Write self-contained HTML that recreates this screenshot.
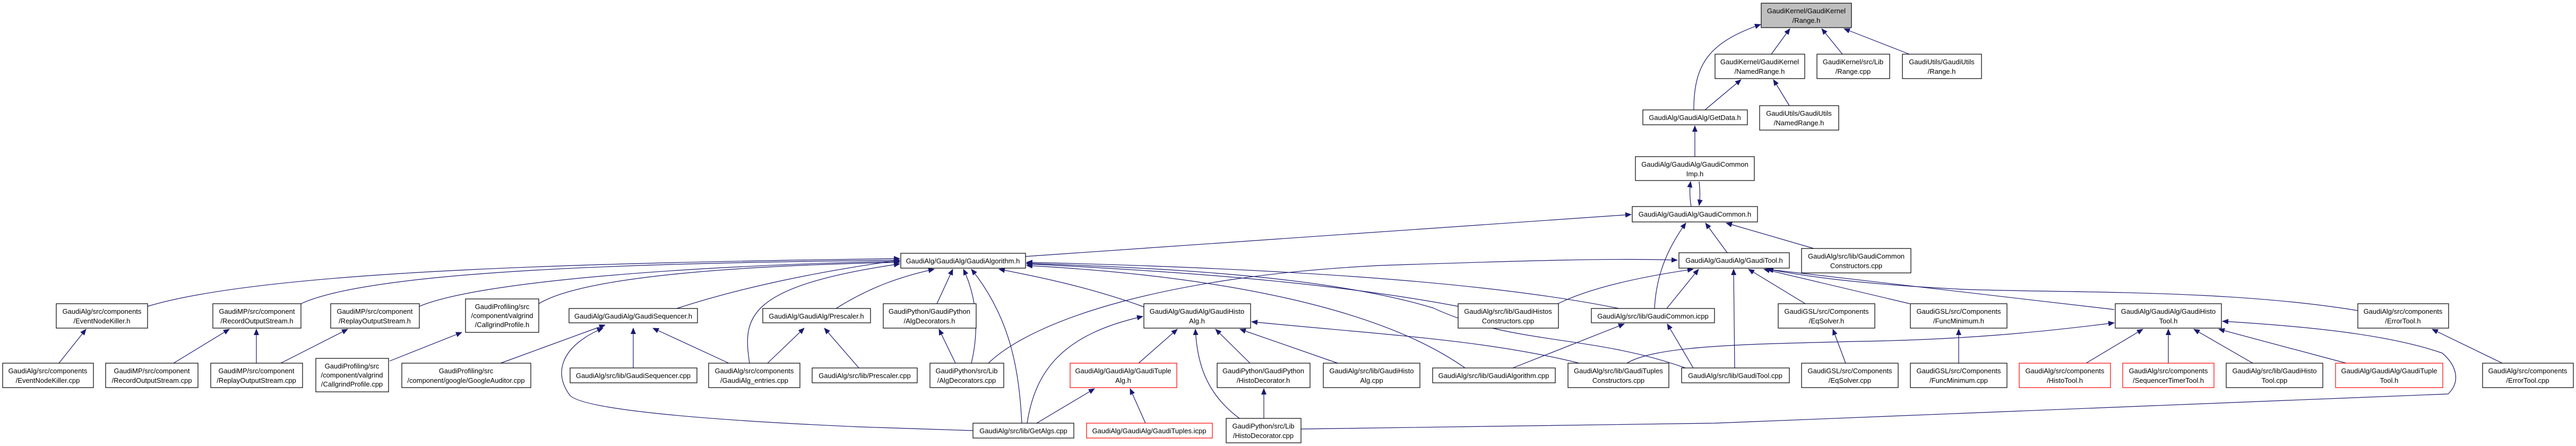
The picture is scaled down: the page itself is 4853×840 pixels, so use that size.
<!DOCTYPE html>
<html><head><meta charset="utf-8"><style>
html,body{margin:0;padding:0;background:#fff;}
svg{display:block;}
text{font-family:"Liberation Sans",sans-serif;font-size:13px;fill:#000;text-anchor:middle;}
.b{fill:#fff;stroke:#000;stroke-width:1.2;}
.r{fill:#fff;stroke:#f00;stroke-width:1.2;}
.g{fill:#bfbfbf;stroke:#000;stroke-width:1.2;}
.e{fill:none;stroke:#191970;stroke-width:1.2;marker-end:url(#a);}
</style></head><body>
<svg width="4853" height="840" viewBox="0 0 4853 840" xmlns="http://www.w3.org/2000/svg">
<defs><marker id="a" markerWidth="12" markerHeight="10" refX="11" refY="5" orient="auto" markerUnits="userSpaceOnUse"><path d="M0,0 L12,5 L0,10 z" fill="#191970"/></marker></defs>

<!-- edges -->
<path class="e" d="M3191,207 C3191,120 3220,80 3317,46"/>
<path class="e" d="M3337,102 L3372,54"/>
<path class="e" d="M3471,102 L3432,54"/>
<path class="e" d="M3597,102 L3474,54"/>
<path class="e" d="M3212,207 L3280,150"/>
<path class="e" d="M3371,199 L3341,150"/>
<path class="e" d="M3193,295 L3193,237"/>
<path class="e" d="M3186,389 C3183,370 3183,355 3185,342"/>
<path class="e" d="M3201,342 C3203,360 3203,375 3201,387"/>
<path class="e" d="M1932,483 L3073,404"/>
<path class="e" d="M3254,476 L3213,420"/>
<path class="e" d="M3417,468 L3252,420"/>
<path class="e" d="M3117,581 C3120,520 3140,470 3176,420"/>
<path class="e" d="M3140,581 L3200,507"/>
<path class="e" d="M3050,581 C2800,530 2400,505 1934,494"/>
<path class="e" d="M2935,572 C3000,540 3100,520 3190,507"/>
<path class="e" d="M2747,577 C2500,530 2200,510 1934,497"/>
<path class="e" d="M2850,693 L3060,610"/>
<path class="e" d="M2760,693 C2600,580 2300,520 1934,500"/>
<path class="e" d="M3190,693 L3141,610"/>
<path class="e" d="M3268,693 L3266,507"/>
<path class="e" d="M3175,693 C3000,630 2850,650 2700,580 C2500,520 2200,505 1934,496"/>
<path class="e" d="M2975,684 C2800,640 2600,630 2358,606"/>
<path class="e" d="M3065,684 C3120,650 3300,648 3500,643 C3700,640 3850,625 3983,608"/>
<path class="e" d="M1862,684 C1950,600 2200,520 2600,500 C2900,490 3050,486 3160,490"/>
<path class="e" d="M1830,684 C1845,620 1840,560 1815,507"/>
<path class="e" d="M1765,572 L1795,507"/>
<path class="e" d="M1800,684 L1769,620"/>
<path class="e" d="M1925,797 C1920,700 1905,600 1830,507"/>
<path class="e" d="M1935,797 C1950,700 2000,630 2153,596"/>
<path class="e" d="M1953,797 L2062,732"/>
<path class="e" d="M2158,797 L2129,732"/>
<path class="e" d="M2145,684 L2218,620"/>
<path class="e" d="M2355,684 L2290,620"/>
<path class="e" d="M2520,684 L2336,620"/>
<path class="e" d="M2335,788 C2270,740 2255,680 2252,620"/>
<path class="e" d="M2381,788 L2381,732"/>
<path class="e" d="M2451,808 L3230,797 L4612,742 C4635,720 4630,690 4601,665 C4500,630 4350,615 4187,605"/>
<path class="e" d="M1833,811 L1620,804 C1300,790 1100,770 1074,745 C1040,700 1060,650 1136,618"/>
<path class="e" d="M1275,581 C1400,540 1550,510 1695,490"/>
<path class="e" d="M1373,684 L1230,618"/>
<path class="e" d="M1446,684 L1515,618"/>
<path class="e" d="M1412,684 C1400,600 1400,540 1695,497"/>
<path class="e" d="M1193,693 L1193,618"/>
<path class="e" d="M943,684 L1140,612"/>
<path class="e" d="M1618,693 L1553,618"/>
<path class="e" d="M1575,581 C1640,540 1700,520 1760,507"/>
<path class="e" d="M278,577 C500,510 1100,495 1695,487"/>
<path class="e" d="M567,572 C700,510 1200,495 1695,490"/>
<path class="e" d="M790,577 C900,530 1300,500 1695,492"/>
<path class="e" d="M1015,572 C1100,520 1400,500 1695,494"/>
<path class="e" d="M111,684 L162,620"/>
<path class="e" d="M327,684 L432,620"/>
<path class="e" d="M483,684 L483,620"/>
<path class="e" d="M529,684 L655,620"/>
<path class="e" d="M734,680 L870,626"/>
<path class="e" d="M2155,578 C2050,540 1950,520 1882,507"/>
<path class="e" d="M3401,572 L3294,507"/>
<path class="e" d="M3598,572 L3323,507"/>
<path class="e" d="M3983,583 L3328,507"/>
<path class="e" d="M4442,585 C4200,545 3900,552 3700,545 C3500,535 3400,520 3330,507"/>
<path class="e" d="M3477,684 L3453,620"/>
<path class="e" d="M3690,684 L3690,620"/>
<path class="e" d="M3930,684 L4037,620"/>
<path class="e" d="M4085,684 L4085,620"/>
<path class="e" d="M4244,684 L4133,620"/>
<path class="e" d="M4420,684 L4180,620"/>
<path class="e" d="M4714,684 L4582,620"/>

<!-- nodes -->
<rect class="g" x="3318" y="6" width="170" height="46"/><text x="3403" y="25">GaudiKernel/GaudiKernel</text><text x="3403" y="43">/Range.h</text>
<rect class="b" x="3231" y="102" width="169" height="46"/><text x="3315" y="121">GaudiKernel/GaudiKernel</text><text x="3315" y="139">/NamedRange.h</text>
<rect class="b" x="3423" y="102" width="137" height="46"/><text x="3491" y="121">GaudiKernel/src/Lib</text><text x="3491" y="139">/Range.cpp</text>
<rect class="b" x="3584" y="102" width="149" height="46"/><text x="3658" y="121">GaudiUtils/GaudiUtils</text><text x="3658" y="139">/Range.h</text>
<rect class="b" x="3095" y="207" width="197" height="28"/><text x="3193" y="226">GaudiAlg/GaudiAlg/GetData.h</text>
<rect class="b" x="3315" y="199" width="149" height="46"/><text x="3389" y="218">GaudiUtils/GaudiUtils</text><text x="3389" y="236">/NamedRange.h</text>
<rect class="b" x="3081" y="295" width="224" height="45"/><text x="3193" y="314">GaudiAlg/GaudiAlg/GaudiCommon</text><text x="3193" y="332">Imp.h</text>
<rect class="b" x="3075" y="389" width="236" height="29"/><text x="3193" y="408">GaudiAlg/GaudiAlg/GaudiCommon.h</text>
<rect class="b" x="1697" y="477" width="235" height="28"/><text x="1814" y="496">GaudiAlg/GaudiAlg/GaudiAlgorithm.h</text>
<rect class="b" x="3163" y="476" width="208" height="29"/><text x="3267" y="495">GaudiAlg/GaudiAlg/GaudiTool.h</text>
<rect class="b" x="3394" y="468" width="206" height="46"/><text x="3497" y="487">GaudiAlg/src/lib/GaudiCommon</text><text x="3497" y="505">Constructors.cpp</text>

<rect class="b" x="106" y="572" width="172" height="46"/><text x="192" y="591">GaudiAlg/src/components</text><text x="192" y="609">/EventNodeKiller.h</text>
<rect class="b" x="401" y="572" width="166" height="46"/><text x="484" y="591">GaudiMP/src/component</text><text x="484" y="609">/RecordOutputStream.h</text>
<rect class="b" x="623" y="572" width="167" height="46"/><text x="706" y="591">GaudiMP/src/component</text><text x="706" y="609">/ReplayOutputStream.h</text>
<rect class="b" x="877" y="563" width="138" height="63"/><text x="946" y="582">GaudiProfiling/src</text><text x="946" y="599">/component/valgrind</text><text x="946" y="616">/CallgrindProfile.h</text>
<rect class="b" x="1072" y="581" width="242" height="27"/><text x="1193" y="600">GaudiAlg/GaudiAlg/GaudiSequencer.h</text>
<rect class="b" x="1437" y="581" width="203" height="27"/><text x="1538" y="600">GaudiAlg/GaudiAlg/Prescaler.h</text>
<rect class="b" x="1664" y="572" width="175" height="46"/><text x="1751" y="591">GaudiPython/GaudiPython</text><text x="1751" y="609">/AlgDecorators.h</text>
<rect class="b" x="2155" y="572" width="201" height="46"/><text x="2255" y="591">GaudiAlg/GaudiAlg/GaudiHisto</text><text x="2255" y="609">Alg.h</text>
<rect class="b" x="2747" y="572" width="189" height="46"/><text x="2841" y="591">GaudiAlg/src/lib/GaudiHistos</text><text x="2841" y="609">Constructors.cpp</text>
<rect class="b" x="2998" y="581" width="232" height="27"/><text x="3114" y="600">GaudiAlg/src/lib/GaudiCommon.icpp</text>
<rect class="b" x="3350" y="572" width="182" height="46"/><text x="3441" y="591">GaudiGSL/src/Components</text><text x="3441" y="609">/EqSolver.h</text>
<rect class="b" x="3599" y="572" width="182" height="46"/><text x="3690" y="591">GaudiGSL/src/Components</text><text x="3690" y="609">/FuncMinimum.h</text>
<rect class="b" x="3985" y="572" width="200" height="46"/><text x="4085" y="591">GaudiAlg/GaudiAlg/GaudiHisto</text><text x="4085" y="609">Tool.h</text>
<rect class="b" x="4442" y="572" width="171" height="46"/><text x="4527" y="591">GaudiAlg/src/components</text><text x="4527" y="609">/ErrorTool.h</text>

<rect class="b" x="5" y="684" width="171" height="46"/><text x="90" y="703">GaudiAlg/src/components</text><text x="90" y="721">/EventNodeKiller.cpp</text>
<rect class="b" x="199" y="684" width="174" height="46"/><text x="286" y="703">GaudiMP/src/component</text><text x="286" y="721">/RecordOutputStream.cpp</text>
<rect class="b" x="397" y="684" width="173" height="46"/><text x="483" y="703">GaudiMP/src/component</text><text x="483" y="721">/ReplayOutputStream.cpp</text>
<rect class="b" x="595" y="675" width="137" height="63"/><text x="663" y="694">GaudiProfiling/src</text><text x="663" y="711">/component/valgrind</text><text x="663" y="728">/CallgrindProfile.cpp</text>
<rect class="b" x="757" y="684" width="243" height="46"/><text x="878" y="703">GaudiProfiling/src</text><text x="878" y="721">/component/google/GoogleAuditor.cpp</text>
<rect class="b" x="1074" y="693" width="239" height="28"/><text x="1193" y="712">GaudiAlg/src/lib/GaudiSequencer.cpp</text>
<rect class="b" x="1335" y="684" width="172" height="46"/><text x="1421" y="703">GaudiAlg/src/components</text><text x="1421" y="721">/GaudiAlg_entries.cpp</text>
<rect class="b" x="1530" y="693" width="198" height="28"/><text x="1629" y="712">GaudiAlg/src/lib/Prescaler.cpp</text>
<rect class="b" x="1752" y="684" width="139" height="46"/><text x="1821" y="703">GaudiPython/src/Lib</text><text x="1821" y="721">/AlgDecorators.cpp</text>
<rect class="r" x="2016" y="684" width="201" height="46"/><text x="2116" y="703">GaudiAlg/GaudiAlg/GaudiTuple</text><text x="2116" y="721">Alg.h</text>
<rect class="b" x="2293" y="684" width="175" height="46"/><text x="2380" y="703">GaudiPython/GaudiPython</text><text x="2380" y="721">/HistoDecorator.h</text>
<rect class="b" x="2493" y="684" width="182" height="46"/><text x="2584" y="703">GaudiAlg/src/lib/GaudiHisto</text><text x="2584" y="721">Alg.cpp</text>
<rect class="b" x="2699" y="693" width="231" height="28"/><text x="2814" y="712">GaudiAlg/src/lib/GaudiAlgorithm.cpp</text>
<rect class="b" x="2954" y="684" width="190" height="46"/><text x="3049" y="703">GaudiAlg/src/lib/GaudiTuples</text><text x="3049" y="721">Constructors.cpp</text>
<rect class="b" x="3168" y="693" width="203" height="28"/><text x="3269" y="712">GaudiAlg/src/lib/GaudiTool.cpp</text>
<rect class="b" x="3394" y="684" width="182" height="46"/><text x="3485" y="703">GaudiGSL/src/Components</text><text x="3485" y="721">/EqSolver.cpp</text>
<rect class="b" x="3599" y="684" width="182" height="46"/><text x="3690" y="703">GaudiGSL/src/Components</text><text x="3690" y="721">/FuncMinimum.cpp</text>
<rect class="r" x="3804" y="684" width="172" height="46"/><text x="3890" y="703">GaudiAlg/src/components</text><text x="3890" y="721">/HistoTool.h</text>
<rect class="r" x="3999" y="684" width="172" height="46"/><text x="4085" y="703">GaudiAlg/src/components</text><text x="4085" y="721">/SequencerTimerTool.h</text>
<rect class="b" x="4194" y="684" width="182" height="46"/><text x="4285" y="703">GaudiAlg/src/lib/GaudiHisto</text><text x="4285" y="721">Tool.cpp</text>
<rect class="r" x="4400" y="684" width="202" height="46"/><text x="4501" y="703">GaudiAlg/GaudiAlg/GaudiTuple</text><text x="4501" y="721">Tool.h</text>
<rect class="b" x="4677" y="684" width="171" height="46"/><text x="4762" y="703">GaudiAlg/src/components</text><text x="4762" y="721">/ErrorTool.cpp</text>

<rect class="b" x="1833" y="797" width="190" height="28"/><text x="1928" y="816">GaudiAlg/src/lib/GetAlgs.cpp</text>
<rect class="r" x="2047" y="797" width="237" height="28"/><text x="2165" y="816">GaudiAlg/GaudiAlg/GaudiTuples.icpp</text>
<rect class="b" x="2310" y="788" width="141" height="46"/><text x="2380" y="807">GaudiPython/src/Lib</text><text x="2380" y="825">/HistoDecorator.cpp</text>
</svg>
</body></html>
